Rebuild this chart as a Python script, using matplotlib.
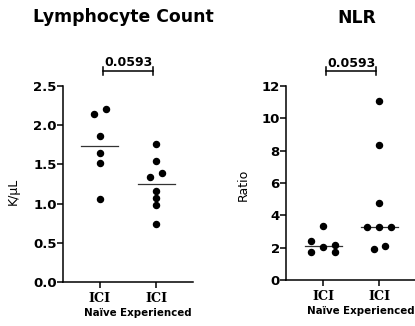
"""Lymphocyte count and NLR scatter plots."""

import matplotlib as mpl
import matplotlib.pyplot as plt
import numpy as np

mpl.style.use("default")

groups = ["Naïve", "Experienced"]

lymph_naive = [2.14, 2.21, 1.86, 1.64, 1.52, 1.06]
lymph_exp = [1.76, 1.54, 1.34, 1.39, 1.16, 1.07, 0.98, 0.74]

nlr_naive = [3.34, 2.43, 2.02, 2.14, 1.71, 1.75]
nlr_exp = [11.05, 8.37, 4.74, 3.27, 3.27, 3.27, 1.90, 2.12]

p_value = "0.0593"

# horizontal spread of the dots (layout only)
lymph_naive_dx = [-0.11, 0.11, 0.0, 0.0, 0.0, 0.0]
lymph_exp_dx = [0.0, 0.0, -0.11, 0.11, 0.0, 0.0, 0.0, 0.0]
nlr_naive_dx = [0.0, -0.21, 0.0, 0.21, -0.21, 0.21]
nlr_exp_dx = [0.0, 0.0, 0.0, -0.22, 0.0, 0.22, -0.09, 0.11]


def panel(ax, data, offsets, center, ylim, yticks, ylabel, label_xy):
    """Draw one dot plot with a center line and a bracket."""
    for i, (vals, dx) in enumerate(zip(data, offsets)):
        ax.scatter(np.array(dx) + i, vals, s=19, color="black", zorder=3)
        c = center(vals)
        ax.plot([i - 0.33, i + 0.33], [c, c], color="#333333", lw=0.9)
    ax.set_xlim(-0.66, 1.66)
    ax.set_ylim(*ylim)
    ax.set_yticks(yticks)
    ax.set_xticks([0, 1])
    ax.set_xticklabels(["ICI", "ICI"], fontfamily="DejaVu Serif",
                       fontweight="bold", fontsize=9.2)
    for lab in ax.get_yticklabels():
        lab.set_fontweight("bold")
        lab.set_fontsize(9.5)
    ax.tick_params(axis="y", length=4, width=1.1, pad=0.5)
    ax.tick_params(axis="x", length=4, width=1.1, pad=3)
    for s in ["top", "right"]:
        ax.spines[s].set_visible(False)
    for s in ["left", "bottom"]:
        ax.spines[s].set_linewidth(1.1)
    ax.set_ylabel(ylabel, fontsize=9)
    ax.yaxis.set_label_coords(*label_xy)
    for i, g in enumerate(groups):
        ax.annotate(g, xy=(i, 0), xycoords=("data", "axes fraction"),
                    xytext=(0, -22.5), textcoords="offset points",
                    ha="center", va="center", fontsize=7.4,
                    fontweight="bold")
    tr = ax.get_xaxis_transform()
    ax.plot([0.05, 0.95], [1.077, 1.077], color="black", lw=1.1,
            transform=tr, clip_on=False)
    for x in [0.05, 0.95]:
        ax.plot([x, x], [1.057, 1.097], color="black", lw=1.1,
                transform=tr, clip_on=False)
    ax.text(0.5, 1.118, p_value, transform=tr, ha="center", va="center",
            fontsize=9, fontweight="bold")


fig = plt.figure(figsize=(4.15, 3.26), dpi=100)
ax1 = fig.add_axes([0.1518, 0.135, 0.3133, 0.601])
ax2 = fig.add_axes([0.6892, 0.141, 0.3133, 0.595])

panel(ax1, [lymph_naive, lymph_exp], [lymph_naive_dx, lymph_exp_dx], np.mean,
      (0, 2.5), [0, 0.5, 1.0, 1.5, 2.0, 2.5], "K/μL", (-0.33, 0.46))
ax1.set_yticklabels(["0.0", "0.5", "1.0", "1.5", "2.0", "2.5"],
                    fontweight="bold", fontsize=9.5)
panel(ax2, [nlr_naive, nlr_exp], [nlr_naive_dx, nlr_exp_dx], np.median,
      (0, 12), [0, 2, 4, 6, 8, 10, 12], "Ratio", (-0.277, 0.49))

fig.text(123.5 / 415, 1 - 17 / 326, "Lymphocyte Count", ha="center",
         va="center", fontsize=12.4, fontweight="bold")
fig.text(357 / 415, 1 - 18 / 326, "NLR", ha="center", va="center",
         fontsize=12.4, fontweight="bold")

fig.savefig("out.png", dpi=100)
